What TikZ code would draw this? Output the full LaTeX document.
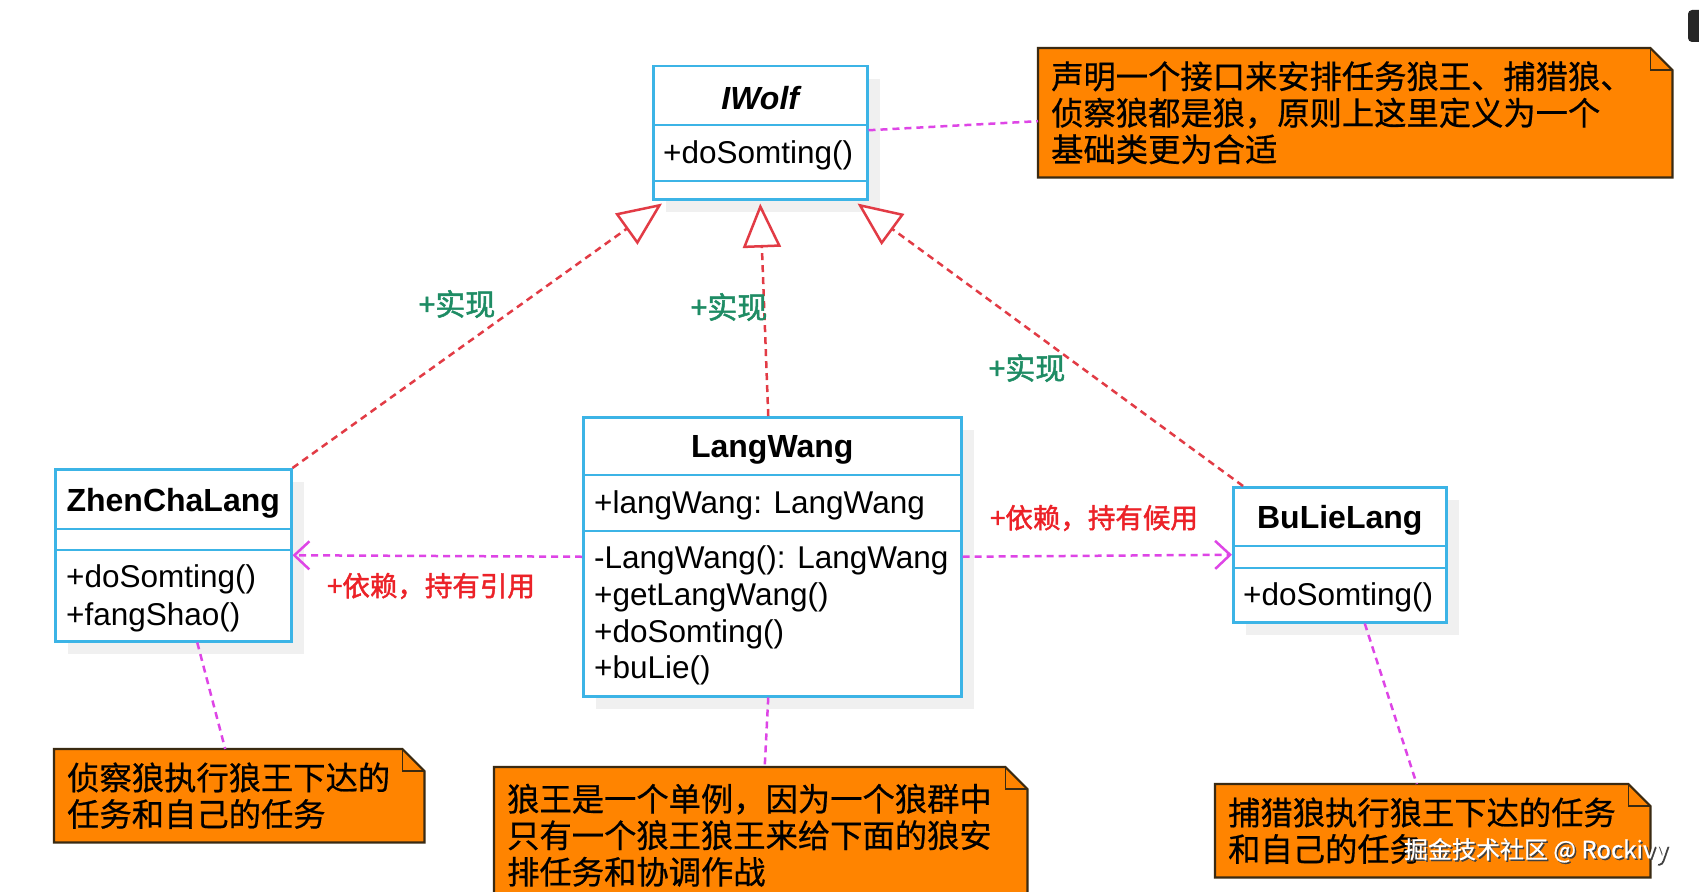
\documentclass[tikz,border=0pt]{standalone}
\usepackage{fontspec}
\setmainfont{Liberation Sans}
\newfontfamily\cjk{Noto Sans CJK SC}[FakeBold=0.6]
\newfontfamily\cjkheavy{Noto Sans CJK SC}[FakeBold=1.6]
\usetikzlibrary{arrows.meta,shadows}

\definecolor{umlblue}{HTML}{3CB4E6}
\definecolor{noteorange}{HTML}{FF8400}
\definecolor{notedark}{HTML}{3A2A12}
\definecolor{realred}{HTML}{E23B45}
\definecolor{depmagenta}{HTML}{DE45E6}
\definecolor{labelred}{HTML}{EC2228}
\definecolor{labelgreen}{HTML}{1E8C64}

\tikzset{
  classbox/.style={draw=umlblue, line width=2.5pt, fill=white, inner sep=0pt, anchor=north west,
    drop shadow={shadow xshift=13pt, shadow yshift=-13pt, fill=black!6, opacity=1}},
  umlline/.style={draw=umlblue, line width=2.3pt},
  classname/.style={font=\fontsize{32}{36}\selectfont\bfseries, inner sep=0pt},
  member/.style={font=\fontsize{31.5}{36}\selectfont, anchor=west, inner sep=0pt, text height=29pt, text depth=7pt},
  notebox/.style={fill=noteorange, anchor=north west, inner xsep=13pt, inner ysep=0pt, align=left,
    font=\cjk\fontsize{32.3}{36.5}\selectfont},
  noteedge/.style={draw=notedark, line width=2.2pt},
  realize/.style={draw=realred, line width=2.5pt, dash pattern=on 7pt off 5pt,
    -{Triangle[open, length=44pt, width=38pt, fill=white]}},
  depend/.style={draw=depmagenta, line width=2.5pt, dash pattern=on 7pt off 5pt,
    -{Straight Barb[length=15pt, width=28pt]}},
  attach/.style={draw=depmagenta, line width=2.5pt, dash pattern=on 7pt off 5pt},
  greenlabel/.style={text=labelgreen, font=\cjkheavy\fontsize{30}{30}\selectfont, inner sep=0pt},
  redlabel/.style={text=labelred, font=\cjkheavy\fontsize{27.5}{27.5}\selectfont, inner sep=0pt}
}

% folded corner of a note
\newcommand{\notefold}[1]{%
  \fill[white] ([xshift=-22pt]#1.north east) -- (#1.north east) -- ([yshift=-22pt]#1.north east) -- cycle;
  \draw[noteedge] (#1.north west) -- ([xshift=-22pt]#1.north east) -- ([yshift=-22pt]#1.north east)
    -- (#1.south east) -- (#1.south west) -- cycle;
  \draw[noteedge, line width=1.4pt] ([xshift=-22pt]#1.north east) -- ([xshift=-22pt,yshift=-22pt]#1.north east)
    -- ([yshift=-22pt]#1.north east);
}

\begin{document}
\begin{tikzpicture}[x=1pt, y=-1pt]
  % Canvas
  \useasboundingbox (0,0) rectangle (1699,891);
  \clip (0,0) rectangle (1699,891);
  \fill[white] (0,0) rectangle (1699,891);
  \fill[black!85, rounded corners=4pt] (1688,10) rectangle (1712,42);

  % Interface IWolf
  \node[classbox, minimum width=214pt, minimum height=133pt] (IWolf) at (652,65) {};
  \draw[umlline] ([yshift=-60pt]IWolf.north west) -- ([yshift=-60pt]IWolf.north east);
  \draw[umlline] ([yshift=-116pt]IWolf.north west) -- ([yshift=-116pt]IWolf.north east);
  \node[classname] (IWolfName) at ([yshift=-33pt]IWolf.north) {\itshape IWolf};
  \node[member] (IWolfOp) at ([xshift=11pt,yshift=-87pt]IWolf.north west) {+doSomting()};

  % Class ZhenChaLang
  \node[classbox, minimum width=236pt, minimum height=172pt] (Zhen) at (54,468) {};
  \draw[umlline] ([yshift=-61pt]Zhen.north west) -- ([yshift=-61pt]Zhen.north east);
  \draw[umlline] ([yshift=-82pt]Zhen.north west) -- ([yshift=-82pt]Zhen.north east);
  \node[classname] (ZhenName) at ([yshift=-35pt]Zhen.north) {ZhenChaLang};
  \node[member] (ZhenOpA) at ([xshift=12pt,yshift=-108pt]Zhen.north west) {+doSomting()};
  \node[member] (ZhenOpB) at ([xshift=12pt,yshift=-146pt]Zhen.north west) {+fangShao()};

  % Class LangWang (singleton)
  \node[classbox, minimum width=378pt, minimum height=279pt] (Wang) at (582,416) {};
  \draw[umlline] ([yshift=-59pt]Wang.north west) -- ([yshift=-59pt]Wang.north east);
  \draw[umlline] ([yshift=-115pt]Wang.north west) -- ([yshift=-115pt]Wang.north east);
  \node[classname] (WangName) at ([yshift=-34pt]Wang.north) {LangWang};
  \node[member] (WangAttr) at ([xshift=12pt,yshift=-86pt]Wang.north west) {+langWang: LangWang};
  \node[member] (WangOpA) at ([xshift=12pt,yshift=-141pt]Wang.north west) {-LangWang(): LangWang};
  \node[member] (WangOpB) at ([xshift=12pt,yshift=-178pt]Wang.north west) {+getLangWang()};
  \node[member] (WangOpC) at ([xshift=12pt,yshift=-215pt]Wang.north west) {+doSomting()};
  \node[member] (WangOpD) at ([xshift=12pt,yshift=-251pt]Wang.north west) {+buLie()};

  % Class BuLieLang
  \node[classbox, minimum width=213pt, minimum height=135pt] (BuLie) at (1232,486) {};
  \draw[umlline] ([yshift=-60pt]BuLie.north west) -- ([yshift=-60pt]BuLie.north east);
  \draw[umlline] ([yshift=-82pt]BuLie.north west) -- ([yshift=-82pt]BuLie.north east);
  \node[classname] (BuLieName) at ([yshift=-34pt]BuLie.north) {BuLieLang};
  \node[member] (BuLieOp) at ([xshift=11pt,yshift=-108pt]BuLie.north west) {+doSomting()};

  % Realization (dashed, open triangle)
  \draw[realize] (Zhen.north east) -- ([xshift=10pt,yshift=-3pt]IWolf.south west);
  \draw[realize] ([xshift=-4pt]Wang.north) -- ([yshift=-3pt]IWolf.south);
  \draw[realize] ([xshift=11pt]BuLie.north west) -- ([xshift=-11pt,yshift=-3pt]IWolf.south east);
  \node[greenlabel] (realA) at (457,304) {+实现};
  \node[greenlabel] (realB) at (729,307) {+实现};
  \node[greenlabel] (realC) at (1027,368) {+实现};

  % Dependencies
  \draw[depend] (Wang.west) -- (Zhen.east);
  \draw[depend] (Wang.east) -- (BuLie.west);
  \node[redlabel] (depA) at (431,586) {+依赖，持有引用};
  \node[redlabel] (depB) at (1094,518) {+依赖，持有候用};

  % Notes
  \node[notebox, text width=608pt, minimum height=129pt] (noteI) at (1038,48)
    {声明一个接口来安排任务狼王、捕猎狼、\\侦察狼都是狼，原则上这里定义为一个\\基础类更为合适};
  \notefold{noteI}
  \node[notebox, text width=344pt, minimum height=93pt] (noteZ) at (54,749)
    {侦察狼执行狼王下达的\\任务和自己的任务};
  \notefold{noteZ}
  \node[notebox, text width=507pt, minimum height=136pt] (noteW) at (494,767)
    {狼王是一个单例，因为一个狼群中\\只有一个狼王狼王来给下面的狼安\\排任务和协调作战};
  \notefold{noteW}
  \node[notebox, text width=409pt, minimum height=93pt] (noteB) at (1215,784)
    {捕猎狼执行狼王下达的任务\\和自己的任务};
  \notefold{noteB}

  % Note attachments
  \draw[attach] ([yshift=2.5pt]IWolf.east) -- ([yshift=-8.5pt]noteI.west);
  \draw[attach] ([xshift=24pt]Zhen.south) -- ([xshift=-14pt]noteZ.north);
  \draw[attach] ([xshift=-4pt]Wang.south) -- ([xshift=4pt]noteW.north);
  \draw[attach] ([xshift=25pt]BuLie.south) -- ([xshift=-16pt]noteB.north);

  % Watermark
  \node[text=black!75, font=\cjk\fontsize{24}{24}\selectfont, inner sep=0pt] (wmShadow) at (1537.5,852.5) {掘金技术社区 @ Rockivy};
  \node[text=white, font=\cjk\fontsize{24}{24}\selectfont, inner sep=0pt] (wmText) at (1536,851) {掘金技术社区 @ Rockivy};
\end{tikzpicture}
\end{document}
